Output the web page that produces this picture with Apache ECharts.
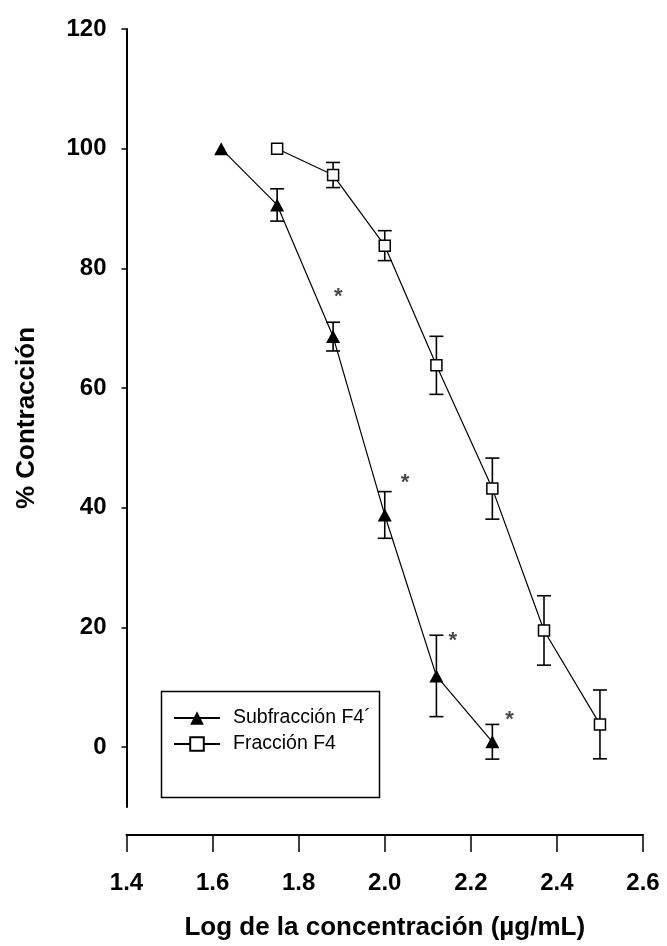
<!DOCTYPE html>
<html>
<head>
<meta charset="utf-8">
<script src="https://cdn.jsdelivr.net/npm/echarts@6/dist/echarts.min.js"></script>
<style>
html,body{margin:0;padding:0;background:#fff;}
#chart{width:667px;height:946px;}
</style>
</head>
<body>
<div id="chart"></div>
<script>
// ---- data ----
const xTicks = [1.4, 1.6, 1.8, 2.0, 2.2, 2.4, 2.6];
const yTicks = [0, 20, 40, 60, 80, 100, 120];

const subName = 'Subfracción F4´';
const subX = [1.62, 1.75, 1.88, 2.0, 2.12, 2.25];
const subY = [100, 90.6, 68.6, 38.8, 11.9, 0.9];
const subErr = [0, 2.7, 2.4, 3.9, 6.8, 2.9];

const fracName = 'Fracción F4';
const fracX = [1.75, 1.88, 2.0, 2.12, 2.25, 2.37, 2.5];
const fracY = [100, 95.6, 83.8, 63.8, 43.2, 19.5, 3.8];
const fracErr = [0, 2.1, 2.5, 4.85, 5.1, 5.8, 5.75];

const starX = [1.892, 2.047, 2.158, 2.29];
const starY = [75.5, 44.4, 18.0, 4.9];

// ---- build ----
const FONT = "'Liberation Sans', Arial, sans-serif";
const zip = (xs, ys) => xs.map((x, i) => [x, ys[i]]);
const zip3 = (xs, ys, es) => xs.map((x, i) => [x, ys[i], es[i]]);

function errRender(params, api) {
  const x = api.value(0), y = api.value(1), e = api.value(2);
  if (!e) return null;
  const top = api.coord([x, y + e]);
  const bot = api.coord([x, y - e]);
  const hw = 7;
  const st = {stroke: '#000', lineWidth: 1.6};
  return {
    type: 'group',
    children: [
      {type: 'line', shape: {x1: top[0], y1: top[1], x2: bot[0], y2: bot[1]}, style: st},
      {type: 'line', shape: {x1: top[0] - hw, y1: top[1], x2: top[0] + hw, y2: top[1]}, style: st},
      {type: 'line', shape: {x1: bot[0] - hw, y1: bot[1], x2: bot[0] + hw, y2: bot[1]}, style: st}
    ]
  };
}

const chart = echarts.init(document.getElementById('chart'), null, {renderer: 'canvas'});
chart.setOption({
  backgroundColor: '#fff',
  animation: false,
  grid: {left: 126.5, right: 24, top: 29, bottom: 139},
  xAxis: {
    type: 'value', min: 1.4, max: 2.6,
    offset: 28,
    axisLine: {show: true, onZero: false, lineStyle: {color: '#000', width: 2}},
    axisTick: {show: true, length: 17, customValues: xTicks, lineStyle: {color: '#000', width: 1.5}},
    axisLabel: {customValues: xTicks, margin: 36, formatter: v => v.toFixed(1),
      color: '#000', fontFamily: FONT, fontWeight: 'bold', fontSize: 24},
    splitLine: {show: false},
    name: 'Log de la concentración (µg/mL)', nameLocation: 'middle', nameGap: 80,
    nameTextStyle: {color: '#000', fontFamily: FONT, fontWeight: 'bold', fontSize: 26}
  },
  yAxis: {
    type: 'value', min: -10, max: 120,
    axisLine: {show: true, onZero: false, lineStyle: {color: '#000', width: 2}},
    axisTick: {show: true, length: 5, customValues: yTicks, lineStyle: {color: '#000', width: 1.5}},
    axisLabel: {customValues: yTicks, margin: 20,
      color: '#000', fontFamily: FONT, fontWeight: 'bold', fontSize: 24},
    splitLine: {show: false},
    name: '% Contracción', nameLocation: 'middle', nameGap: 87, nameRotate: 90,
    nameTextStyle: {color: '#000', fontFamily: FONT, fontWeight: 'bold', fontSize: 26}
  },
  legend: {
    orient: 'vertical', left: 173, top: 708, itemWidth: 46, itemHeight: 17, itemGap: 6,
    padding: 0,
    textStyle: {color: '#000', fontFamily: FONT, fontSize: 19.5, padding: [0, 0, 0, 8]},
    data: [subName, fracName]
  },
  graphic: [{
    type: 'rect', left: 159, top: 689, z: 0,
    shape: {width: 218, height: 106},
    style: {fill: 'none', stroke: '#000', lineWidth: 1.5}
  }],
  series: [
    {type: 'custom', renderItem: errRender, data: zip3(subX, subY, subErr), z: 1, silent: true},
    {type: 'custom', renderItem: errRender, data: zip3(fracX, fracY, fracErr), z: 1, silent: true},
    {
      name: subName, type: 'line', data: zip(subX, subY), z: 3,
      symbol: 'triangle', symbolSize: [14, 13],
      lineStyle: {color: '#000', width: 1.2},
      itemStyle: {color: '#000', borderWidth: 0}
    },
    {
      name: fracName, type: 'line', data: zip(fracX, fracY), z: 3,
      symbol: 'rect', symbolSize: 11,
      lineStyle: {color: '#000', width: 1.2},
      itemStyle: {color: '#fff', borderColor: '#000', borderWidth: 1.5}
    },
    {
      type: 'scatter', data: zip(starX, starY), symbolSize: 1, z: 4, silent: true,
      itemStyle: {color: 'rgba(0,0,0,0)'},
      label: {show: true, position: 'inside', formatter: '*', offset: [0, 2],
        color: '#1a1a1a', fontFamily: FONT, fontWeight: 'bold', fontSize: 22}
    }
  ]
});
</script>
</body>
</html>
